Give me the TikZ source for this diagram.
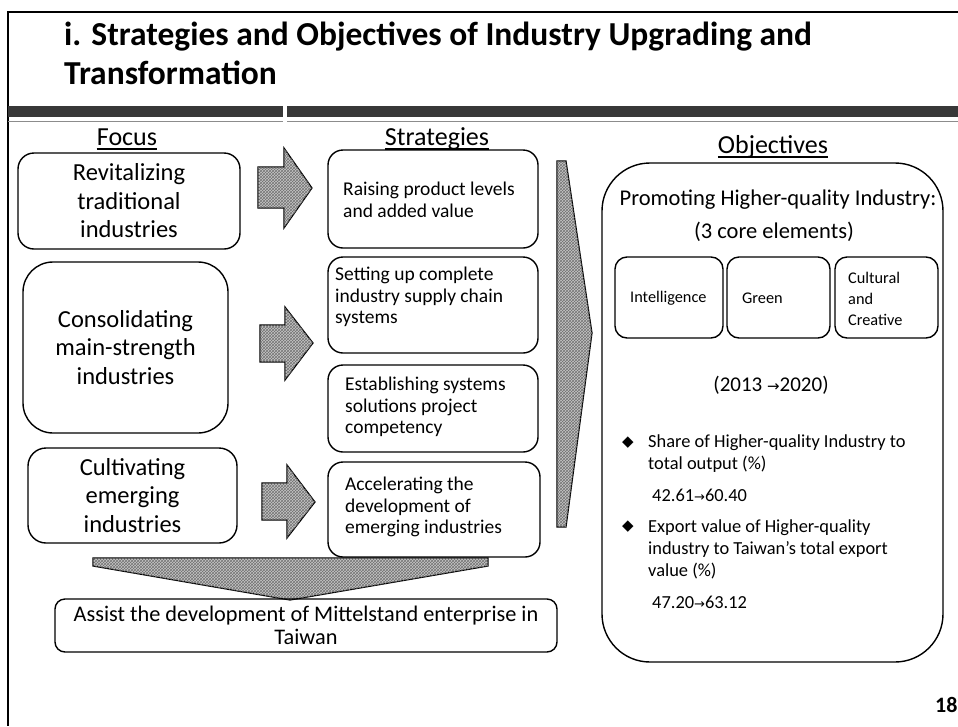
\documentclass[tikz,border=0pt]{standalone}
\usepackage{fontspec}
\setmainfont{Carlito}
\newfontfamily\djv{DejaVu Sans}
\usetikzlibrary{patterns}
\newcommand{\arrw}{{\djv\fontsize{13}{13}\selectfont →}}
\newcommand{\arrwb}{{\djv\fontsize{15}{15}\selectfont →}}
\begin{document}
\begin{tikzpicture}[x=1pt,y=-1pt,
  box/.style={draw, line width=1.4pt, rounded corners=#1, inner sep=0pt},
  box/.default=15pt,
  hatch/.style={draw=black, line width=1.2pt, fill=black!22,
    postaction={pattern=crosshatch, pattern color=black!55}},
  lft/.style={font=\fontsize{24.5}{28.5}\selectfont, align=center},
  stt/.style={font=\fontsize{19.5}{21.5}\selectfont, align=left, inner sep=0pt},
  hdr/.style={font=\fontsize{26}{30}\selectfont, inner sep=0pt},
  obt/.style={font=\fontsize{18.4}{22}\selectfont, align=left, inner sep=0pt},
  cor/.style={font=\fontsize{16.3}{21}\selectfont, align=left, inner sep=0pt}]
\useasboundingbox (0,0) rectangle (958,726);
\fill[white] (0,0) rectangle (958,726);
% frame
\draw[line width=1.5pt] (958,12) -- (8,12) -- (8,726);
% bar
\fill[black!78] (8,106) rectangle (283,117);
\fill[black!78] (287,106) rectangle (958,117);
\draw[black!45, line width=0.6pt] (8,121) -- (283,121) (287,121) -- (958,121);
% title
\node[anchor=base west, inner sep=0pt, font=\bfseries\fontsize{33.5}{38}\selectfont] (t1) at (64,45) {i. Strategies and Objectives of Industry Upgrading and};
\node[anchor=base west, inner sep=0pt, font=\bfseries\fontsize{33.5}{38}\selectfont] (t2) at (64,84) {Transformation};
% headers
\node[hdr, anchor=base] (hfocus) at (127,145) {Focus};
\node[hdr, anchor=base] (hstrat) at (437,145) {Strategies};
\node[hdr, anchor=base] (hobj) at (773,153) {Objectives};
\draw[line width=1.1pt] ([yshift=-4pt]hfocus.base west) -- ([yshift=-4pt]hfocus.base east);
\draw[line width=1.1pt] ([yshift=-4pt]hstrat.base west) -- ([yshift=-4pt]hstrat.base east);
\draw[line width=1.1pt] ([yshift=-4pt]hobj.base west) -- ([yshift=-4pt]hobj.base east);
% focus boxes
\node[box=16pt, lft, minimum width=222, minimum height=96] (rev) at (129,201) {Revitalizing\\traditional\\industries};
\node[box=30pt, lft, minimum width=205, minimum height=171] (con) at (125.5,347.5) {Consolidating\\main-strength\\industries};
\node[box=18pt, lft, minimum width=209, minimum height=95] (cul) at (132.5,495.5) {Cultivating\\emerging\\industries};
% block arrows
\path[hatch] (258,167) -- (284,167) -- (284,148) -- (312,188) -- (284,228) -- (284,208) -- (258,208) -- cycle;
\path[hatch] (260,325) -- (285,325) -- (285,307) -- (313,343) -- (285,380) -- (285,362) -- (260,362) -- cycle;
\path[hatch] (262,483) -- (287,483) -- (287,465) -- (315,502) -- (287,538) -- (287,520) -- (262,520) -- cycle;
% strategy boxes
\node[box, minimum width=210, minimum height=98] (s1) at (433,199) {};
\node[box, minimum width=210, minimum height=96] (s2) at (433,305) {};
\node[box, minimum width=210, minimum height=87] (s3) at (433,408.5) {};
\node[box, minimum width=212, minimum height=95] (s4) at (434,509.5) {};
\node[stt, anchor=west] (s1t) at (343,200) {Raising product levels\\and added value};
\node[stt, anchor=west] (s2t) at (335,297) {Setting up complete\\industry supply chain\\systems};
\node[stt, anchor=west] (s3t) at (345,407) {Establishing systems\\solutions project\\competency};
\node[stt, anchor=west] (s4t) at (345,507) {Accelerating the\\development of\\emerging industries};
% big right chevron
\path[hatch] (557,161) -- (566,161) -- (592,333) -- (566,527) -- (557,527) -- cycle;
% downward trapezoid
\path[hatch] (93,558) -- (488,558) -- (488,566) -- (290,600) -- (93,566) -- cycle;
% Mittelstand box
\node[box=10pt, minimum width=502, minimum height=53, align=center, font=\fontsize{22.3}{23}\selectfont] (mit) at (306,625.5) {Assist the development of Mittelstand enterprise in\\Taiwan};
% objectives box
\node[box=48pt, minimum width=341, minimum height=499] (obj) at (772.5,412.5) {};
\node[font=\fontsize{22.5}{26}\selectfont, inner sep=0pt] (prom) at (778,200) {Promoting Higher-quality Industry:};
\node[font=\fontsize{22.5}{26}\selectfont, inner sep=0pt] (core) at (774,232) {(3 core elements)};
\node[box=12pt, minimum width=108, minimum height=81] (bi) at (669,297.5) {};
\node[box=12pt, minimum width=103, minimum height=81] (bg) at (778.5,297.5) {};
\node[box=12pt, minimum width=103, minimum height=81] (bc) at (886.5,297.5) {};
\node[cor, anchor=west] (bit) at (630,298) {Intelligence};
\node[cor, anchor=west] (bgt) at (742,298) {Green};
\node[cor, anchor=west] (bct) at (848,299) {Cultural\\and\\Creative};
\node[font=\fontsize{21}{24}\selectfont, inner sep=0pt] (yrs) at (771,385) {(2013 \arrwb2020)};
\node[anchor=center, inner sep=0pt, font=\djv\fontsize{15}{15}\selectfont] (d1) at (628,443) {◆};
\node[anchor=center, inner sep=0pt, font=\djv\fontsize{15}{15}\selectfont] (d2) at (628,527) {◆};
\node[obt, anchor=west] (b1) at (648,454) {Share of Higher-quality Industry to\\total output (\%)};
\node[obt, anchor=west] (n1) at (652,495) {42.61\arrw60.40};
\node[obt, anchor=west] (b2) at (648,549.5) {Export value of Higher-quality\\industry to Taiwan's total export\\value (\%)};
\node[obt, anchor=west] (n2) at (652,602) {47.20\arrw63.12};
% page number
\node[anchor=west, inner sep=0pt, font=\bfseries\fontsize{22}{22}\selectfont] (pg) at (935,705) {18};
\end{tikzpicture}
\end{document}
